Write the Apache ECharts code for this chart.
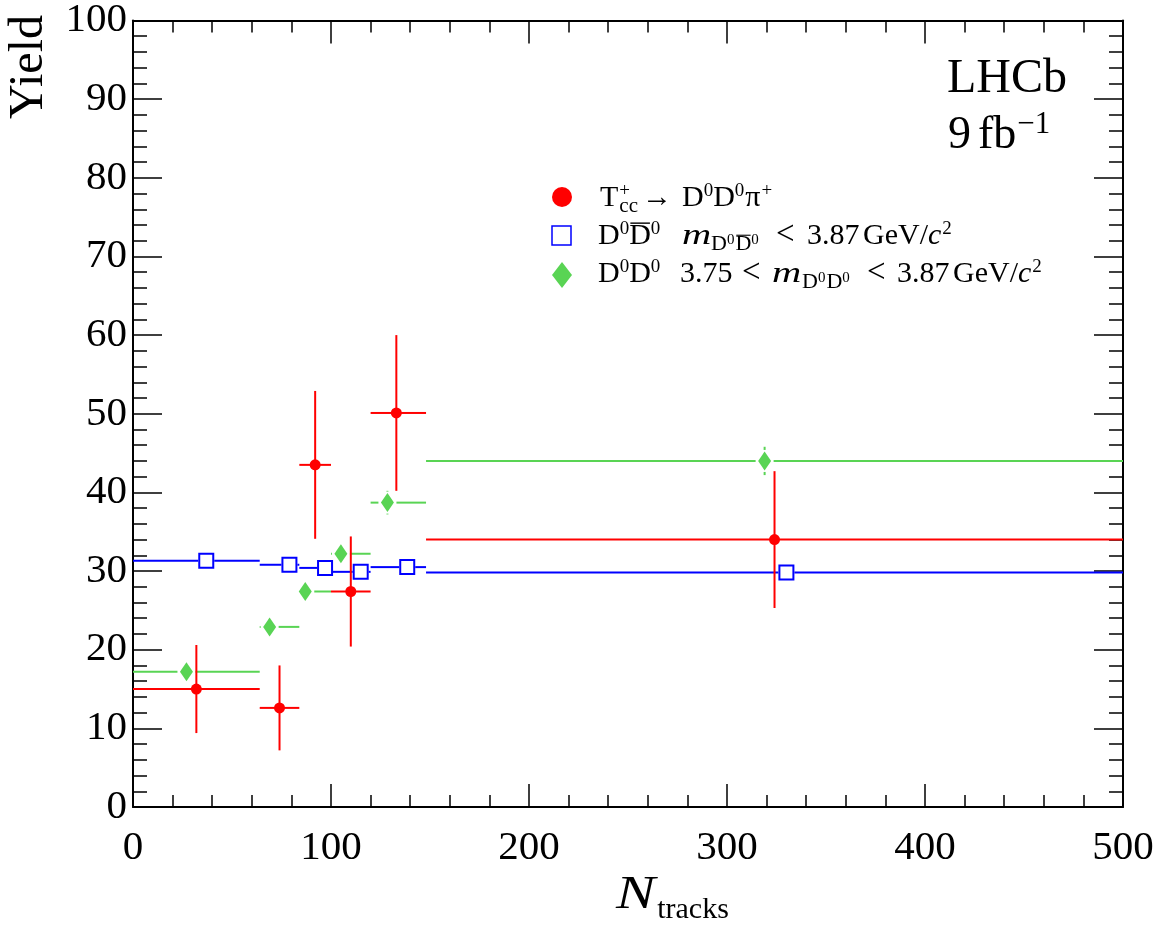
<!DOCTYPE html>
<html>
<head>
<meta charset="utf-8">
<title>Yield vs N_tracks</title>
<script src="https://cdn.jsdelivr.net/npm/echarts@6/dist/echarts.min.js"></script>
<style>
  html, body { margin: 0; padding: 0; background: #ffffff; }
  #chart { width: 1171px; height: 927px; }
</style>
</head>
<body>
<div id="chart"></div>
<script>
// ---- data ----
// N_tracks bin edges shared by all three samples
const binEdges = [0, 64, 84, 100, 120, 148, 500];

// T_cc+ -> D0 D0 pi+
const tccX   = [32, 74, 92, 110, 133, 324];
const tccY   = [15.0, 12.6, 43.5, 27.4, 50.1, 34.0];
const tccErr = [5.6, 5.4, 9.4, 7.0, 9.9, 8.7];

// D0 D0bar, m < 3.87 GeV/c2
const dDbarX   = [37, 79, 97, 115, 138.5, 330];
const dDbarY   = [31.3, 30.8, 30.4, 29.9, 30.5, 29.8];
const dDbarErr = [0.6, 0.6, 0.6, 0.6, 0.6, 0.6];

// D0 D0, 3.75 < m < 3.87 GeV/c2
const dDX   = [27, 69, 87, 105, 128.5, 319];
const dDY   = [17.2, 22.9, 27.4, 32.2, 38.7, 44.0];
const dDErr = [1.0, 1.1, 1.2, 1.4, 1.5, 1.8];

// ---- styling ----
const FONT = 'Liberation Serif';
const RED = '#ff0000';
const BLUE = '#0000ff';
const GREEN = '#59d454';

function rows(xs, ys, errs) {
  return xs.map((x, i) => [x, ys[i], binEdges[i], binEdges[i + 1], ys[i] - errs[i], ys[i] + errs[i]]);
}

// error bars drawn with a gap around the marker
function errorBars(name, data, color, gapX, gapY, width) {
  return {
    type: 'custom',
    name: name + ' errors',
    data: data,
    silent: true,
    z: 2,
    encode: { x: 0, y: 1 },
    renderItem: function (params, api) {
      const c = api.coord([api.value(0), api.value(1)]);
      const lo = api.coord([api.value(2), api.value(1)]);
      const hi = api.coord([api.value(3), api.value(1)]);
      const yl = api.coord([api.value(0), api.value(4)]);
      const yh = api.coord([api.value(0), api.value(5)]);
      const children = [];
      const seg = (x1, y1, x2, y2) => children.push({
        type: 'line', shape: { x1, y1, x2, y2 },
        style: { stroke: color, lineWidth: width }
      });
      if (c[0] - gapX > lo[0]) seg(lo[0], c[1], c[0] - gapX, c[1]);
      if (hi[0] > c[0] + gapX) seg(c[0] + gapX, c[1], hi[0], c[1]);
      if (c[1] - gapY > yh[1]) seg(c[0], yh[1], c[0], c[1] - gapY);
      if (yl[1] > c[1] + gapY) seg(c[0], c[1] + gapY, c[0], yl[1]);
      return { type: 'group', children };
    }
  };
}

// ---- math-like text built from pieces ----
const measureCtx = document.createElement('canvas').getContext('2d');
function fontStr(size, italic) {
  return (italic ? 'italic ' : '') + size + 'px "' + FONT + '"';
}
function textW(t, size, italic) {
  measureCtx.font = fontStr(size, italic);
  return measureCtx.measureText(t).width;
}
// baseline -> y for verticalAlign 'middle'
function midY(base, size) { return base - 0.34 * size; }

// each piece: text, optional x (absolute start), size, baseline shift,
// italic, overline, horizontal stretch, stack (next piece starts at same x)
function mathRow(x0, base, segs) {
  const els = [];
  let cx = x0;
  let stackW = 0;
  segs.forEach(s => {
    const size = s.size || 30;
    if (s.x !== undefined) cx = s.x;
    const sx = s.sx || 1;
    const w = textW(s.t, size, s.it) * sx;
    const b = base + (s.dy || 0);
    els.push({
      type: 'text', x: cx, y: midY(b, size), scaleX: sx, silent: true,
      style: { text: s.t, font: fontStr(size, s.it), fill: '#000', align: 'left', verticalAlign: 'middle' }
    });
    if (s.over) {
      const yo = b - 0.662 * size - Math.max(2, size * 0.1);
      els.push({
        type: 'line', silent: true,
        shape: { x1: cx + size * 0.04, y1: yo, x2: cx + w - size * 0.03, y2: yo },
        style: { stroke: '#000', lineWidth: size > 22 ? 1.4 : 1.1 }
      });
    }
    if (s.stack) {
      stackW = Math.max(stackW, w);
    } else {
      cx += Math.max(w, stackW) + (s.gap || 0);
      stackW = 0;
    }
  });
  return els;
}

const SUPSZ = 19, SUPDY = -11;
const SUBSZ = 22, SUBDY = 6;
const sup = (t, extra) => Object.assign({ t, size: SUPSZ, dy: SUPDY }, extra || {});
const sub = (t, extra) => Object.assign({ t, size: SUBSZ, dy: SUBDY }, extra || {});
const sub0 = () => ({ t: '0', size: 15, dy: -1, gap: 1 });
const lt = (x) => ({ t: '<', x, size: 33, dy: 1 });

const legendRow1 = [
  { t: 'T', x: 600, gap: 1 }, sup('+', { stack: true }), sub('cc', { size: 21 }),
  { t: '→', x: 642 }, { t: 'D', x: 682 }, sup('0'), { t: 'D' }, sup('0', { gap: 1 }),
  { t: 'π', gap: 1 }, sup('+')
];
const legendRow2 = [
  { t: 'D', x: 598 }, sup('0'), { t: 'D', over: true }, sup('0'),
  { t: 'm', x: 682, it: true, sx: 1.35 },
  sub('D', { x: 711 }), sub0(), sub('D', { over: true }), sub0(),
  lt(776), { t: '3.87', x: 807 }, { t: 'GeV/', x: 863 }, { t: 'c', it: true, gap: 1 }, sup('2')
];
const legendRow3 = [
  { t: 'D', x: 598 }, sup('0'), { t: 'D' }, sup('0'),
  { t: '3.75', x: 680 }, lt(742), { t: 'm', x: 772, it: true, sx: 1.35 },
  sub('D', { x: 802 }), sub0(), sub('D'), sub0(),
  lt(867), { t: '3.87', x: 897 }, { t: 'GeV/', x: 953 }, { t: 'c', it: true, gap: 1 }, sup('2')
];

const graphics = [];
// legend markers
graphics.push({ type: 'circle', silent: true, shape: { cx: 562, cy: 197, r: 10 }, style: { fill: RED } });
graphics.push({ type: 'rect', silent: true, shape: { x: 552, y: 226, width: 19, height: 19 },
  style: { fill: '#fff', stroke: BLUE, lineWidth: 1.5 } });
graphics.push({ type: 'polygon', silent: true,
  shape: { points: [[562, 262], [572, 275], [562, 288], [552, 275]] }, style: { fill: GREEN } });
graphics.push(...mathRow(597, 208, legendRow1));
graphics.push(...mathRow(597, 246, legendRow2));
graphics.push(...mathRow(597, 284, legendRow3));

// experiment label
graphics.push({ type: 'text', x: 947, y: midY(96, 48), silent: true,
  style: { text: 'LHCb', font: fontStr(48), fill: '#000', align: 'left', verticalAlign: 'middle' } });
graphics.push(...mathRow(948, 152, [
  { t: '9', size: 46, gap: 7 }, { t: 'fb', size: 46, gap: 1 }, { t: '−1', size: 31, dy: -17 }
]));

// axis titles
graphics.push({ type: 'text', x: 29, y: 15, rotation: Math.PI / 2, silent: true,
  style: { text: 'Yield', font: fontStr(48), fill: '#000', align: 'right', verticalAlign: 'middle' } });
graphics.push(...mathRow(616, 912, [
  { t: 'N', size: 47, it: true, sx: 1.25, gap: 2 }, { t: 'tracks', size: 30, dy: 8 }
]));

const chart = echarts.init(document.getElementById('chart'), null, { renderer: 'canvas' });

function axisLineCfg() {
  return { show: true, onZero: false, lineStyle: { color: '#000', width: 2 } };
}
function xAxisCfg(pos, labels) {
  return {
    type: 'value', position: pos, min: 0, max: 500, interval: 100,
    axisLine: axisLineCfg(),
    axisTick: { show: true, inside: true, length: 23, lineStyle: { color: '#000', width: 1.5 } },
    minorTick: { show: true, splitNumber: 5, length: 12, lineStyle: { color: '#000', width: 1.5 } },
    splitLine: { show: false }, minorSplitLine: { show: false },
    axisLabel: labels
      ? { show: true, margin: 21, color: '#000', fontFamily: FONT, fontSize: 41 }
      : { show: false }
  };
}
function yAxisCfg(pos, labels) {
  return {
    type: 'value', position: pos, min: 0, max: 100, interval: 10,
    axisLine: axisLineCfg(),
    axisTick: { show: true, inside: true, length: 29, lineStyle: { color: '#000', width: 1.5 } },
    minorTick: { show: true, splitNumber: 5, length: 14, lineStyle: { color: '#000', width: 1.5 } },
    splitLine: { show: false }, minorSplitLine: { show: false },
    axisLabel: labels
      ? { show: true, margin: 6, color: '#000', fontFamily: FONT, fontSize: 41 }
      : { show: false }
  };
}

chart.setOption({
  animation: false,
  backgroundColor: '#ffffff',
  grid: { left: 133, right: 48, top: 14, bottom: 120, containLabel: false },
  xAxis: [xAxisCfg('bottom', true), xAxisCfg('top', false)],
  yAxis: [yAxisCfg('left', true), yAxisCfg('right', false)],
  series: [
    errorBars('D0D0bar', rows(dDbarX, dDbarY, dDbarErr), BLUE, 8, 8, 2),
    errorBars('D0D0', rows(dDX, dDY, dDErr), GREEN, 9, 11, 2),
    errorBars('Tcc', rows(tccX, tccY, tccErr), RED, 0, 0, 2),
    {
      type: 'scatter', name: 'D0D0bar', z: 3, silent: true,
      data: dDbarX.map((x, i) => [x, dDbarY[i]]),
      symbol: 'rect', symbolSize: 14,
      itemStyle: { color: '#ffffff', borderColor: BLUE, borderWidth: 2, opacity: 1 }
    },
    {
      type: 'scatter', name: 'D0D0', z: 3, silent: true,
      data: dDX.map((x, i) => [x, dDY[i]]),
      symbol: 'diamond', symbolSize: [13, 19],
      itemStyle: { color: GREEN, opacity: 1 }
    },
    {
      type: 'scatter', name: 'Tcc', z: 4, silent: true,
      data: tccX.map((x, i) => [x, tccY[i]]),
      symbol: 'circle', symbolSize: 11,
      itemStyle: { color: RED, opacity: 1 }
    }
  ],
  graphic: graphics
});
</script>
</body>
</html>
